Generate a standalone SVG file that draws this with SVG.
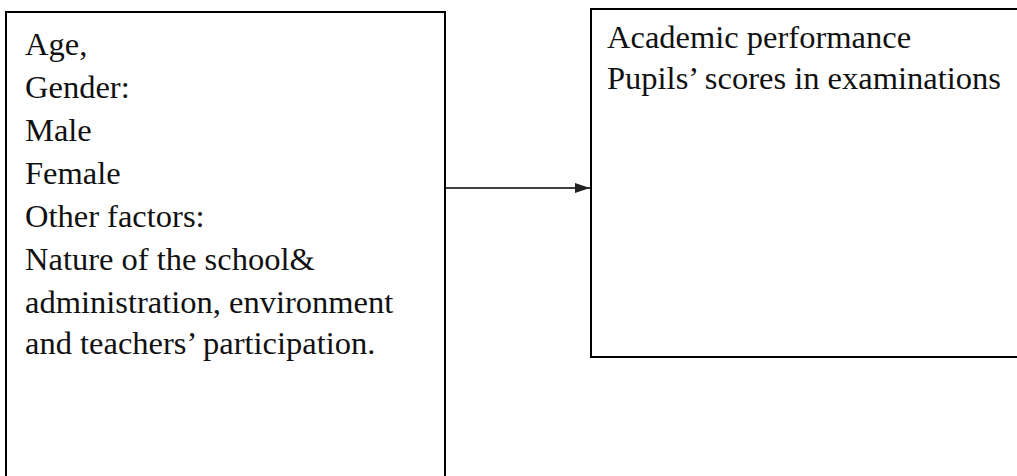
<svg xmlns="http://www.w3.org/2000/svg" width="1017" height="476" viewBox="0 0 1017 476">
<style>
.box{fill:#fff;stroke:#000;stroke-width:2}
.t{font-family:"Liberation Serif","Times New Roman",serif;font-size:32.5px;fill:#111}
.conn{stroke:#000;stroke-width:1.5;fill:none}
</style>
<defs>
<marker id="ah" viewBox="0 0 15 10" refX="15" refY="5" markerWidth="15" markerHeight="10" markerUnits="userSpaceOnUse" orient="auto"><path d="M0,0 L15,5 L0,10 z" fill="#222"/></marker>
</defs>
<rect width="1017" height="476" fill="#fff"/>
<g id="node-factors">
<rect class="box" x="6" y="12" width="439" height="470"/>
<text class="t" x="25" y="55">Age,</text>
<text class="t" x="25" y="98">Gender:</text>
<text class="t" x="25" y="141">Male</text>
<text class="t" x="25" y="184">Female</text>
<text class="t" x="25" y="227">Other factors:</text>
<text class="t" x="25" y="270">Nature of the school&amp;</text>
<text class="t" x="25" y="313">administration, environment</text>
<text class="t" x="25" y="354">and teachers’ participation.</text>
</g>
<g id="node-performance">
<rect class="box" x="591" y="9" width="440" height="348"/>
<text class="t" x="607" y="48">Academic performance</text>
<text class="t" x="607" y="89">Pupils’ scores in examinations</text>
</g>
<g id="connectors">
<line class="conn" x1="445" y1="188" x2="590" y2="188" marker-end="url(#ah)"/>
</g>
</svg>
